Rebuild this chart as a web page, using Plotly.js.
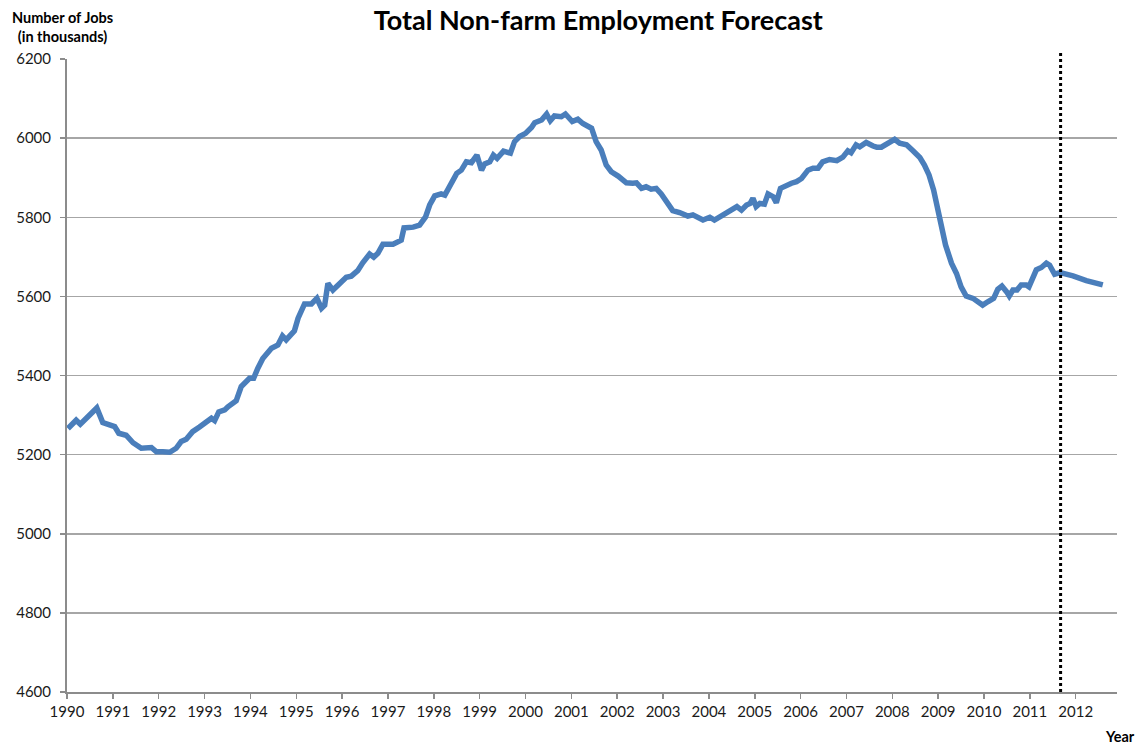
<!DOCTYPE html>
<html>
<head>
<meta charset="utf-8">
<script src="https://cdn.plot.ly/plotly-3.0.1.min.js"></script>
<style>html,body{margin:0;padding:0;background:#fff;}#chart{width:1140px;height:747px;}</style>
</head>
<body>
<div id="chart"></div>
<script>
// time (decimal year) and employment (thousands of jobs)
const years = [
1990.02,1990.2,1990.29,1990.42,1990.6,1990.65,1990.78,1990.97,1991.04,1991.13,1991.29,1991.44,1991.62,1991.84,1991.95,
1992.09,1992.24,1992.38,1992.49,1992.6,1992.74,1992.89,1993.04,1993.15,1993.22,1993.31,1993.44,1993.51,1993.69,1993.8,
1993.98,1994.07,1994.16,1994.27,1994.46,1994.6,1994.7,1994.78,1994.96,1995.04,1995.18,1995.33,1995.45,1995.55,1995.62,
1995.69,1995.8,1995.95,1996.09,1996.2,1996.34,1996.45,1996.6,1996.69,1996.78,1996.89,1997.11,1997.29,1997.35,1997.55,
1997.69,1997.82,1997.91,1998.02,1998.16,1998.24,1998.34,1998.42,1998.5,1998.6,1998.71,1998.82,1998.94,1999.04,1999.11,
1999.22,1999.3,1999.38,1999.52,1999.67,1999.76,1999.87,2000.0,2000.13,2000.2,2000.35,2000.46,2000.54,2000.63,2000.78,
2000.87,2001.02,2001.14,2001.25,2001.44,2001.54,2001.65,2001.76,2001.87,2002.02,2002.2,2002.34,2002.42,2002.53,2002.63,
2002.74,2002.85,2002.96,2003.07,2003.21,2003.36,2003.54,2003.65,2003.87,2004.02,2004.12,2004.31,2004.49,2004.61,2004.71,
2004.82,2004.9,2004.96,2005.03,2005.11,2005.21,2005.29,2005.4,2005.47,2005.56,2005.69,2005.8,2005.91,2006.02,2006.16,
2006.27,2006.38,2006.48,2006.63,2006.79,2006.92,2007.03,2007.1,2007.21,2007.29,2007.43,2007.58,2007.66,2007.76,2007.87,
2007.98,2008.05,2008.16,2008.31,2008.45,2008.6,2008.7,2008.8,2008.9,2008.99,2009.07,2009.16,2009.29,2009.4,2009.5,
2009.61,2009.76,2009.87,2009.97,2010.09,2010.21,2010.3,2010.39,2010.49,2010.55,2010.63,2010.72,2010.81,2010.92,2010.98,
2011.07,2011.14,2011.25,2011.36,2011.43,2011.54,2011.66,2011.94,2012.23,2012.59
];
const jobs = [
5266,5287,5277,5292,5314,5318,5281,5275,5271,5254,5249,5230,5216,5218,5207,
5207,5206,5216,5233,5239,5258,5270,5281,5292,5286,5308,5313,5321,5336,5372,
5393,5393,5418,5443,5469,5477,5500,5490,5513,5545,5581,5581,5595,5570,5578,
5633,5616,5634,5648,5651,5665,5685,5707,5699,5709,5732,5732,5742,5773,5775,
5780,5801,5831,5854,5859,5856,5879,5892,5911,5919,5940,5938,5957,5919,5935,
5940,5957,5949,5967,5962,5991,6004,6012,6027,6039,6046,6061,6044,6056,6054,
6061,6042,6048,6037,6025,5991,5970,5932,5915,5904,5887,5886,5887,5873,5877,
5871,5873,5859,5839,5817,5812,5803,5806,5793,5800,5793,5806,5820,5827,5818,
5831,5835,5848,5827,5835,5833,5859,5852,5837,5873,5881,5886,5890,5898,5919,
5924,5924,5940,5946,5943,5952,5968,5963,5983,5978,5989,5980,5977,5977,5985,
5991,5997,5987,5983,5968,5951,5932,5907,5869,5823,5776,5730,5684,5658,5624,
5601,5595,5587,5578,5587,5595,5618,5626,5612,5601,5616,5616,5629,5629,5624,
5650,5667,5673,5684,5679,5656,5660,5652,5640,5629
];
const forecastStart = 2011.67;
const yearTicks = [1990,1991,1992,1993,1994,1995,1996,1997,1998,1999,2000,2001,2002,2003,2004,2005,2006,2007,2008,2009,2010,2011,2012];
const yTicks = [4600,4800,5000,5200,5400,5600,5800,6000,6200];

const FONT = 'Lato, "Liberation Sans", sans-serif';

const data = [{
  x: years, y: jobs, type: 'scatter', mode: 'lines',
  line: {color: '#4a7ebb', width: 5.5, shape: 'linear'},
  hoverinfo: 'x+y'
}];

const layout = {
  width: 1140, height: 747,
  margin: {l: 67, r: 23, t: 59, b: 55},
  paper_bgcolor: '#fff', plot_bgcolor: '#fff',
  showlegend: false,
  font: {family: FONT, size: 15, color: '#1a1a1a'},
  title: {text: '<b>Total Non-farm Employment Forecast</b>', font: {family: FONT, size: 27, color: '#000'},
          x: 0.506, xanchor: 'center', xref: 'paper', y: 0.973, yanchor: 'middle'},
  xaxis: {
    range: [1990, 2012.9], tickvals: yearTicks, ticktext: yearTicks.map(String),
    showgrid: false, zeroline: false, showline: true, linecolor: '#8c8c8c', linewidth: 2,
    ticks: 'outside', ticklen: 5, tickcolor: '#8c8c8c', tickwidth: 1.5,
    tickfont: {family: FONT, size: 15, color: '#1a1a1a'}, fixedrange: true
  },
  yaxis: {
    range: [4600, 6200], tickvals: yTicks, ticktext: yTicks.map(String),
    showgrid: true, gridcolor: '#a6a6a6', gridwidth: 1.5, zeroline: false,
    showline: true, linecolor: '#8c8c8c', linewidth: 2,
    ticks: 'outside', ticklen: 5, tickcolor: '#8c8c8c', tickwidth: 1.5, ticklabelstandoff: 6,
    tickfont: {family: FONT, size: 15, color: '#1a1a1a'}, fixedrange: true
  },
  shapes: [{
    type: 'line', xref: 'x', yref: 'paper', x0: forecastStart, x1: forecastStart, y0: 0, y1: 1.01,
    line: {color: '#000', width: 3, dash: 'dot'}
  }],
  annotations: [
    {text: '<b>Number of Jobs<br>(in thousands)</b>', xref: 'paper', yref: 'paper',
     x: -0.004, y: 1.051, xanchor: 'center', yanchor: 'middle', showarrow: false, align: 'center',
     font: {family: FONT, size: 14.5, color: '#000'}},
    {text: '<b>Year</b>', xref: 'paper', yref: 'paper', x: 1.019, y: -0.071,
     xanchor: 'right', yanchor: 'middle', showarrow: false,
     font: {family: FONT, size: 14.5, color: '#000'}}
  ]
};

Plotly.newPlot('chart', data, layout, {displayModeBar: false, staticPlot: true});
</script>
</body>
</html>
